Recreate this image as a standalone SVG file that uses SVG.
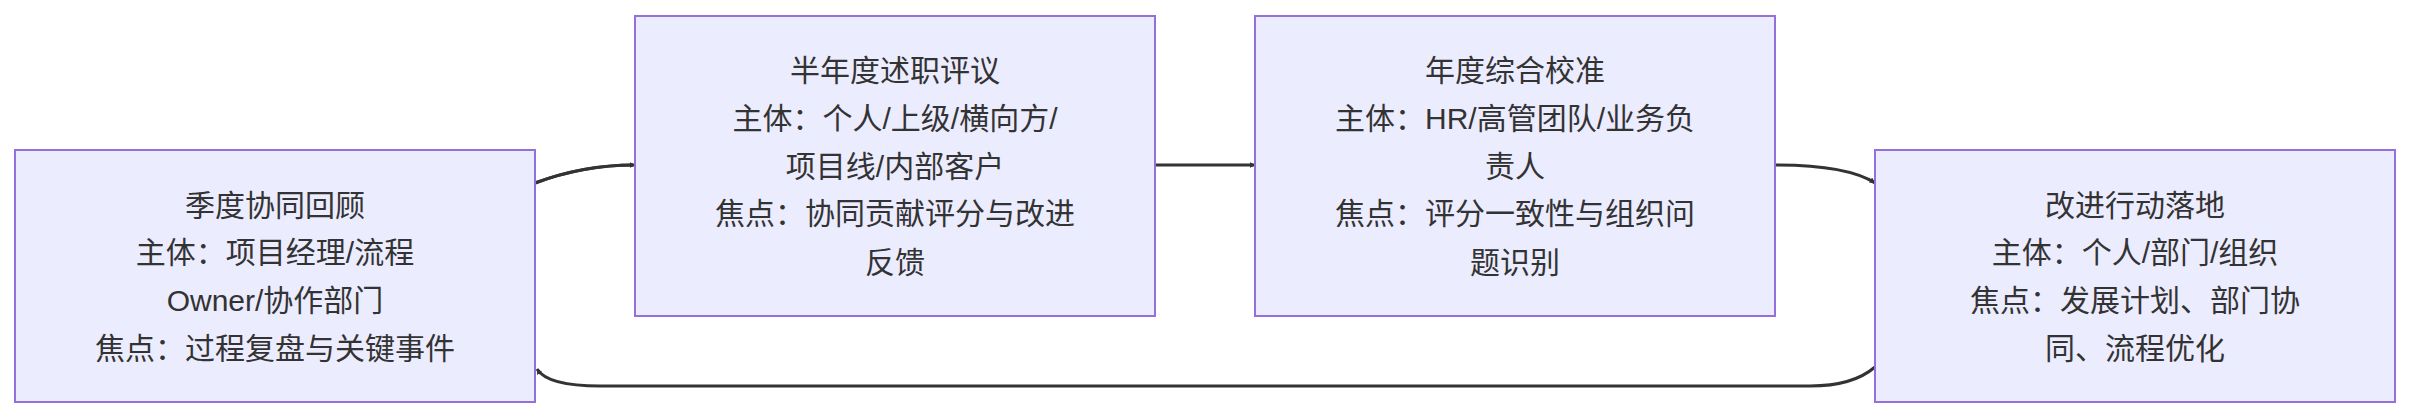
<svg xmlns="http://www.w3.org/2000/svg" width="2412" height="418" viewBox="0 0 2412 418">
<style>
.n rect{fill:#ECECFF;stroke:#9370DB;stroke-width:2}
.n text{font-family:"Liberation Sans","Noto Sans CJK SC",sans-serif;font-size:30px;fill:#333;text-anchor:middle;dominant-baseline:central}
.e path{fill:none;stroke:#333;stroke-width:3}
</style>
<defs><marker id="a" viewBox="0 0 10 10" refX="9" refY="5" markerWidth="6" markerHeight="6" orient="auto" markerUnits="userSpaceOnUse"><path d="M0,0L10,5L0,10z" fill="#333"/></marker></defs>
<rect width="2412" height="418" fill="#fff"/>
<g class="e">
<path d="M535,183 C570,170 600,165 633,165" marker-end="url(#a)" style="marker-end:none"/>
<path d="M535,183 C570,170 600,165 635,165" marker-end="url(#a)"/>
<path d="M1155,165 L1255,165" marker-end="url(#a)"/>
<path d="M1775,165 C1820,165 1855,170 1875,183" marker-end="url(#a)"/>
<path d="M1875,367 C1860,380 1840,386 1810,386 L600,386 C570,386 545,382 537,369" marker-end="url(#a)"/>
</g>
<g class="n" id="n1"><rect x="15" y="150" width="520" height="252"/>
<text x="275" y="205">季度协同回顾</text><text x="275" y="252">主体：项目经理/流程</text><text x="275" y="300">Owner/协作部门</text><text x="275" y="348">焦点：过程复盘与关键事件</text></g>
<g class="n" id="n2"><rect x="635" y="16" width="520" height="300"/>
<text x="895" y="70">半年度述职评议</text><text x="895" y="118">主体：个人/上级/横向方/</text><text x="895" y="166">项目线/内部客户</text><text x="895" y="213">焦点：协同贡献评分与改进</text><text x="895" y="262">反馈</text></g>
<g class="n" id="n3"><rect x="1255" y="16" width="520" height="300"/>
<text x="1515" y="70">年度综合校准</text><text x="1515" y="118">主体：HR/高管团队/业务负</text><text x="1515" y="166">责人</text><text x="1515" y="213">焦点：评分一致性与组织问</text><text x="1515" y="262">题识别</text></g>
<g class="n" id="n4"><rect x="1875" y="150" width="520" height="252"/>
<text x="2135" y="205">改进行动落地</text><text x="2135" y="252">主体：个人/部门/组织</text><text x="2135" y="300">焦点：发展计划、部门协</text><text x="2135" y="348">同、流程优化</text></g>
</svg>
